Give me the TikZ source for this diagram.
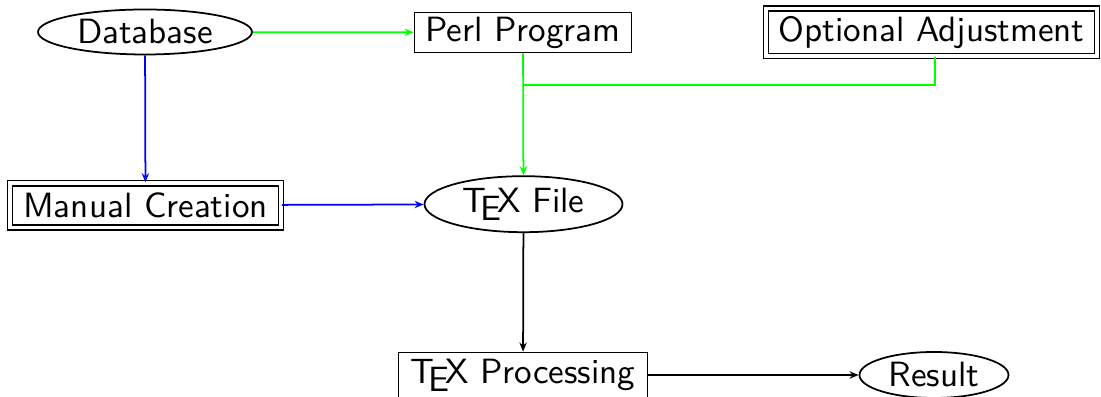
\documentclass[tikz,border=0pt]{standalone}
\usetikzlibrary{shapes.geometric,arrows.meta}
\begin{document}
\begin{tikzpicture}[x=0.285pt,y=-0.285pt,
  every node/.style={font=\fontsize{10}{12}\selectfont\sffamily, inner sep=0pt, line width=0.5pt},
  oval/.style={draw, ellipse},
  plainbox/.style={draw, rectangle},
  dblbox/.style={draw, rectangle, double, double distance=0.95pt},
  conn/.style={line width=0.5pt, -{Stealth[length=2.6pt,width=2.1pt,inset=0.9pt]}},
  feed/.style={line width=0.5pt}
]
\useasboundingbox (0,0) rectangle (1101,397);

% sources and intermediate steps
\node[oval, minimum width=214*0.285pt, minimum height=45*0.285pt] (db) at (145,32) {Database};
\node[plainbox, minimum width=217*0.285pt, minimum height=40*0.285pt] (perl) at (523,32.5) {Perl Program};
\node[dblbox, minimum width=331*0.285pt, minimum height=47.5*0.285pt] (opt) at (931.5,32.2) {Optional Adjustment};
\node[dblbox, minimum width=271*0.285pt, minimum height=44.3*0.285pt] (manual) at (145.5,205.3) {Manual Creation};
\node[oval, minimum width=198*0.285pt, minimum height=56*0.285pt] (texfile) at (523.5,204.2) {\TeX\ File};
\node[plainbox, minimum width=249*0.285pt, minimum height=45*0.285pt] (proc) at (523,375) {\TeX\ Processing};
\node[oval, minimum width=149*0.285pt, minimum height=46*0.285pt] (result) at (934,375) {Result};

% junction where the adjustment joins the Perl output
\coordinate (join) at (523,85);

% automatic route
\draw[conn, green] (db) -- (perl);
\draw[conn, green] (perl) -- (texfile);
\draw[feed, green] ([xshift=3.5*0.285pt]opt.south) |- (join);

% manual route
\draw[conn, blue] (db) -- (manual);
\draw[conn, blue] (manual) -- (texfile);

% typesetting
\draw[conn] (texfile) -- (proc);
\draw[conn] (proc) -- (result);
\end{tikzpicture}
\end{document}
